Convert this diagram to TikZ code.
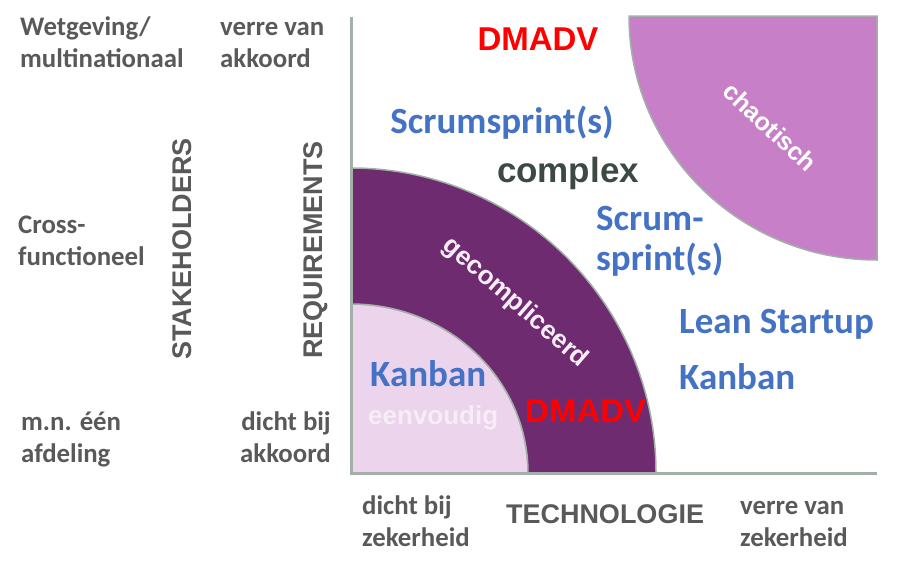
\documentclass[tikz,border=0pt]{standalone}
\usepackage{fontspec}
\setmainfont{Carlito}
\newfontfamily\arialf{Liberation Sans}
\definecolor{labelgrey}{HTML}{595959}
\definecolor{axisgrey}{HTML}{A3B0A8}
\definecolor{simplefill}{HTML}{ECD4EC}
\definecolor{complfill}{HTML}{6F2B6F}
\definecolor{chaosfill}{HTML}{C77FC8}
\definecolor{methblue}{HTML}{4472C4}
\definecolor{methred}{HTML}{FF0000}
\definecolor{cplxgrey}{HTML}{3C4A43}
\definecolor{softwhite}{HTML}{F6EDF6}
\tikzset{
  lbl/.style={inner sep=0pt, text=labelgrey, font=\fontsize{26.8}{30}\selectfont\bfseries},
  axlbl/.style={inner sep=0pt, text=labelgrey, font=\arialf\fontsize{27}{30}\selectfont\bfseries},
  meth/.style={inner sep=0pt, text=methblue, font=\fontsize{37}{40}\selectfont\bfseries},
  dmadv/.style={inner sep=0pt, text=methred, font=\arialf\fontsize{33}{36}\selectfont\bfseries},
  zone/.style={inner sep=0pt, font=\arialf\fontsize{26}{30}\selectfont\bfseries},
  shapeline/.style={draw=axisgrey, line width=1.5pt},
}
\begin{document}
\begin{tikzpicture}[x=1pt,y=-1pt]
\useasboundingbox (0,0) rectangle (920,568);
% domains
\fill[simplefill, shapeline] (351,473) -- (528,473) arc[start angle=0, end angle=-90, x radius=177, y radius=169] -- cycle;
\fill[complfill, shapeline] (528,473) -- (656,473) arc[start angle=0, end angle=-90, radius=305] -- (351,304) arc[start angle=-90, end angle=0, x radius=177, y radius=169] -- cycle;
\fill[chaosfill, shapeline] (877,16) -- (629,16) arc[start angle=180, end angle=90, x radius=248, y radius=244] -- cycle;
% axes
\coordinate (top) at (351,17);
\coordinate (orig) at (351,473);
\coordinate (right) at (877,473);
\draw[axisgrey, line width=3pt] (top) -- (orig) -- (right);
% left labels
\node[lbl, anchor=base west] (w1) at (20,35) {Wetgeving/};
\node[lbl, anchor=base west] (w2) at (20,67) {multinationaal};
\node[lbl, anchor=base west] (v1) at (220,35) {verre van};
\node[lbl, anchor=base west] (v2) at (220,67) {akkoord};
\node[lbl, anchor=base west] (c1) at (18,233) {Cross-};
\node[lbl, anchor=base west] (c2) at (18,265) {functioneel};
\node[lbl, anchor=base west] (m1) at (21,430) {m.n. één};
\node[lbl, anchor=base west] (m2) at (21,462) {afdeling};
\node[lbl, anchor=base east] (d1) at (331,430) {dicht bij};
\node[lbl, anchor=base east] (d2) at (331,462) {akkoord};
\node[axlbl, rotate=90] (stake) at (182,249) {STAKEHOLDERS};
\node[axlbl, rotate=90] (req) at (316,250) {REQUIREMENTS};
% bottom labels
\node[lbl, anchor=base west] (b1) at (362,514) {dicht bij};
\node[lbl, anchor=base west] (b2) at (362,546) {zekerheid};
\node[axlbl] (tech) at (605,514) {TECHNOLOGIE};
\node[lbl, anchor=base west] (e1) at (740,514) {verre van};
\node[lbl, anchor=base west] (e2) at (740,546) {zekerheid};
% methods
\node[dmadv, anchor=base] (dm1) at (538,50) {DMADV};
\node[meth, anchor=base] (ss1) at (502,133) {Scrumsprint(s)};
\node[inner sep=0pt, text=cplxgrey, font=\arialf\fontsize{35}{40}\selectfont\bfseries, anchor=base] (cplx) at (568,182) {complex};
\node[meth, anchor=base west] (ss2) at (596,230) {Scrum-};
\node[meth, anchor=base west] (ss3) at (596,270) {sprint(s)};
\node[meth, anchor=base west] (lean) at (679,333) {Lean Startup};
\node[meth, anchor=base west] (kb2) at (679,389) {Kanban};
\node[meth, anchor=base west] (kb1) at (370,386) {Kanban};
\node[zone, text=softwhite, anchor=base west] (simp) at (368,424) {eenvoudig};
\node[dmadv, anchor=base west] (dm2) at (525,422) {DMADV};
\node[zone, text=softwhite, rotate=-41] (comp) at (515,303) {gecompliceerd};
\node[zone, text=white, rotate=-43, font=\arialf\fontsize{25}{30}\selectfont\bfseries] (chaos) at (770,127) {chaotisch};
\end{tikzpicture}
\end{document}
